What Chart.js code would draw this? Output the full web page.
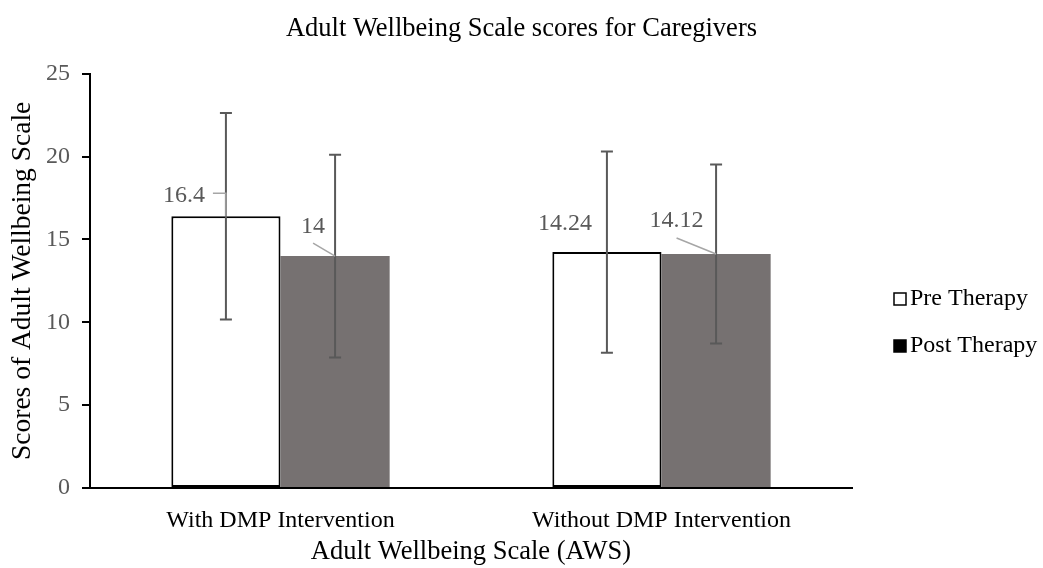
<!DOCTYPE html>
<html>
<head>
<meta charset="utf-8">
<script src="https://cdn.jsdelivr.net/npm/chart.js@4.4.1/dist/chart.umd.min.js"></script>
<style>
  html, body { margin: 0; padding: 0; background: #fff; }
  #wrap { width: 1043px; height: 568px; position: relative; }
</style>
</head>
<body>
<div id="wrap"><canvas id="c" width="1043" height="568"></canvas></div>
<script>
// ---- data ----
const categories = ['With DMP Intervention', 'Without DMP Intervention'];
const seriesNames = ['Pre Therapy', 'Post Therapy'];
const preValues = [16.4, 14.24];
const postValues = [14, 14.12];
const preErrors = [6.23, 6.07];
const postErrors = [6.12, 5.4];
const preLabels = ['16.4', '14.24'];
const postLabels = ['14', '14.12'];
const yTicks = [0, 5, 10, 15, 20, 25];

const FONT = "'Liberation Serif', 'Times New Roman', serif";

// label placement (style, relative to bar centre / bar top)
const labelStyle = [
  [ {dx: -42, dy: -21, leader: [[-13, -23], [0, -23], [0, 0]]},
    {dx: -42, dy: -28, leader: null} ],
  [ {dx: -22, dy: -29, leader: [[-22, -13], [0, 0]]},
    {dx: -39.5, dy: -33, leader: [[-39.5, -16], [0, 0]]} ]
];
const errorSets = [preErrors, postErrors];
const labelSets = [preLabels, postLabels];

const overlayPlugin = {
  id: 'overlay',
  afterDatasetsDraw(chart) {
    const ctx = chart.ctx;
    const y = chart.scales.y;
    ctx.save();
    // error bars
    chart.data.datasets.forEach((ds, di) => {
      const meta = chart.getDatasetMeta(di);
      meta.data.forEach((bar, i) => {
        const v = ds.data[i];
        const e = errorSets[di][i];
        const yt = y.getPixelForValue(v + e);
        const yb = y.getPixelForValue(v - e);
        ctx.strokeStyle = '#595959';
        ctx.lineWidth = 2;
        ctx.beginPath();
        ctx.moveTo(bar.x, yt); ctx.lineTo(bar.x, yb);
        ctx.moveTo(bar.x - 6, yt); ctx.lineTo(bar.x + 6, yt);
        ctx.moveTo(bar.x - 6, yb); ctx.lineTo(bar.x + 6, yb);
        ctx.stroke();
      });
    });
    // data labels + leader lines
    chart.data.datasets.forEach((ds, di) => {
      const meta = chart.getDatasetMeta(di);
      meta.data.forEach((bar, i) => {
        const st = labelStyle[di][i];
        const bx = bar.x, by = bar.y;
        if (st.leader) {
          ctx.strokeStyle = '#a6a6a6';
          ctx.lineWidth = 1.5;
          ctx.beginPath();
          st.leader.forEach((p, k) => {
            if (k === 0) ctx.moveTo(bx + p[0], by + p[1]);
            else ctx.lineTo(bx + p[0], by + p[1]);
          });
          ctx.stroke();
        }
        ctx.fillStyle = '#595959';
        ctx.font = '24px ' + FONT;
        ctx.textAlign = 'center';
        ctx.textBaseline = 'middle';
        ctx.fillText(labelSets[di][i], bx + st.dx, by + st.dy);
      });
    });
    ctx.restore();
  },
  afterDraw(chart) {
    // legend
    const ctx = chart.ctx;
    ctx.save();
    const items = [
      {text: seriesNames[0], fill: '#ffffff', y: 299},
      {text: seriesNames[1], fill: '#000000', y: 346}
    ];
    items.forEach(it => {
      ctx.fillStyle = it.fill;
      ctx.fillRect(894, it.y - 6, 12, 12);
      ctx.strokeStyle = '#000';
      ctx.lineWidth = 1.5;
      ctx.strokeRect(894, it.y - 6, 12, 12);
      ctx.fillStyle = '#000';
      ctx.font = '24px ' + FONT;
      ctx.textAlign = 'left';
      ctx.textBaseline = 'middle';
      ctx.fillText(it.text, 910, it.y);
    });
    ctx.restore();
  }
};

new Chart(document.getElementById('c'), {
  type: 'bar',
  data: {
    labels: categories,
    datasets: [
      {
        label: seriesNames[0],
        data: preValues,
        backgroundColor: '#ffffff',
        borderColor: '#000000',
        borderWidth: 2,
        borderSkipped: false
      },
      {
        label: seriesNames[1],
        data: postValues,
        backgroundColor: '#767171',
        borderWidth: 0
      }
    ]
  },
  options: {
    responsive: false,
    animation: false,
    devicePixelRatio: 1,
    layout: { padding: 0 },
    datasets: { bar: { categoryPercentage: 0.573, barPercentage: 1.0 } },
    plugins: {
      legend: { display: false },
      tooltip: { enabled: false },
      title: {
        display: true,
        text: 'Adult Wellbeing Scale scores for Caregivers',
        color: '#000',
        font: { family: FONT, size: 26.5, weight: 'normal' },
        padding: { top: 13, bottom: 29 }
      }
    },
    scales: {
      x: {
        grid: { display: false },
        border: { display: true, color: '#000', width: 2 },
        ticks: { color: '#000', font: { family: FONT, size: 24 }, padding: 10, maxRotation: 0 },
        title: {
          display: true,
          text: 'Adult Wellbeing Scale (AWS)',
          color: '#000',
          font: { family: FONT, size: 26.5 },
          padding: { top: 0, bottom: 0 }
        },
        afterFit(scale) { scale.height = 80; }
      },
      y: {
        min: 0,
        max: 25,
        afterBuildTicks(scale) { scale.ticks = yTicks.map(v => ({ value: v })); },
        grid: { display: true, drawOnChartArea: false, drawTicks: true, tickLength: 8, color: '#000', lineWidth: 2 },
        border: { display: true, color: '#000', width: 2 },
        ticks: { color: '#595959', font: { family: FONT, size: 24 }, padding: 12 },
        title: {
          display: true,
          text: 'Scores of Adult Wellbeing Scale',
          color: '#000',
          font: { family: FONT, size: 27.5 },
          padding: { top: 6, bottom: 0 }
        },
        afterFit(scale) { scale.width = 90; }
      },
      legendSpace: {
        type: 'linear',
        position: 'right',
        display: true,
        grid: { display: false, drawTicks: false },
        border: { display: false },
        ticks: { display: false },
        afterFit(scale) { scale.width = 191; }
      }
    }
  },
  plugins: [overlayPlugin]
});
</script>
</body>
</html>
